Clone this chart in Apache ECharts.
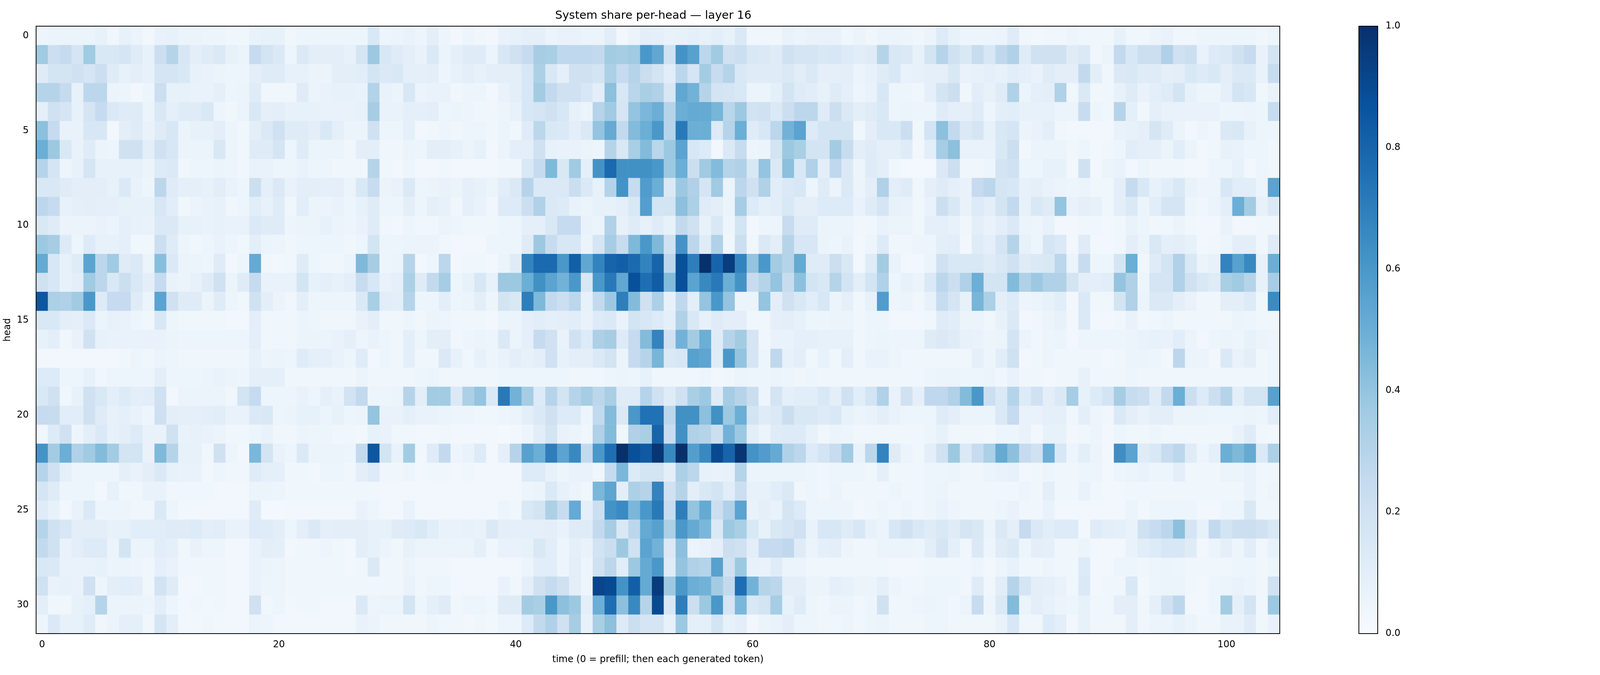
<!DOCTYPE html>
<html>
<head>
<meta charset="utf-8">
<title>System share per-head — layer 16</title>
<script src="https://cdn.jsdelivr.net/npm/echarts@6/dist/echarts.min.js"></script>
<style>
  html, body { margin: 0; padding: 0; background: #ffffff; overflow: hidden; }
  #chart-container { width: 100vw; height: 100vh; }
</style>
</head>
<body>
<div id="chart-container"></div>
<script>
// time steps (0 = prefill) and attention heads
var times = [];
for (var t = 0; t <= 104; t++) times.push(String(t));
var heads = [];
for (var h = 0; h <= 31; h++) heads.push(String(h));

var xTicks = [0, 20, 40, 60, 80, 100];
var yTicks = [0, 5, 10, 15, 20, 25, 30];
var colorbarTicks = [0, 0.2, 0.4, 0.6, 0.8, 1.0];

// system share, one row per head, one value per time step
var shareByHead = [
  [0.05,0.06,0.06,0.06,0.06,0.08,0.04,0.08,0.06,0.03,0.07,0.08,0.06,0.06,0.05,0.05,0.04,0.04,0.07,0.08,0.08,0.04,0.05,0.05,0.05,0.05,0.05, 0.05,0.15,0.05,0.06,0.07,0.05,0.1,0.05,0.03,0.05,0.04,0.03,0.07,0.08,0.09,0.09,0.06,0.07,0.07,0.06,0.06,0.11,0.03,0.06,0.1,0.09,0.07, 0.08,0.09,0.08,0.1,0.08,0.14,0.04,0.04,0.04,0.07,0.06,0.07,0.07,0.07,0.04,0.06,0.04,0.06,0.06,0.05,0.04,0.06,0.13,0.08,0.05,0.05,0.05, 0.06,0.12,0.04,0.03,0.04,0.04,0.05,0.04,0.04,0.04,0.08,0.04,0.04,0.06,0.07,0.04,0.04,0.05,0.05,0.05,0.05,0.05,0.04,0.05],
  [0.37,0.22,0.25,0.17,0.37,0.15,0.15,0.17,0.12,0.08,0.22,0.3,0.16,0.1,0.12,0.14,0.08,0.06,0.25,0.18,0.14,0.05,0.14,0.1,0.1,0.1,0.08, 0.17,0.38,0.16,0.12,0.1,0.07,0.14,0.06,0.09,0.12,0.12,0.06,0.16,0.2,0.25,0.35,0.34,0.27,0.27,0.27,0.26,0.36,0.35,0.37,0.6,0.53,0.2, 0.62,0.56,0.28,0.37,0.2,0.22,0.15,0.14,0.12,0.2,0.17,0.17,0.15,0.16,0.13,0.11,0.12,0.3,0.15,0.14,0.08,0.18,0.3,0.2,0.15,0.24,0.16, 0.27,0.32,0.12,0.2,0.2,0.2,0.12,0.14,0.04,0.06,0.26,0.16,0.22,0.22,0.32,0.2,0.22,0.07,0.13,0.14,0.2,0.25,0.07,0.18],
  [0.12,0.18,0.18,0.2,0.17,0.22,0.12,0.08,0.1,0.08,0.17,0.17,0.15,0.08,0.07,0.06,0.05,0.05,0.1,0.12,0.12,0.08,0.08,0.06,0.06,0.1,0.1, 0.11,0.18,0.14,0.15,0.09,0.09,0.1,0.05,0.08,0.1,0.08,0.1,0.1,0.1,0.16,0.33,0.15,0.09,0.2,0.2,0.18,0.33,0.25,0.3,0.23,0.18,0.11, 0.28,0.17,0.36,0.24,0.3,0.15,0.12,0.12,0.12,0.14,0.11,0.14,0.09,0.09,0.1,0.06,0.08,0.12,0.15,0.07,0.08,0.09,0.09,0.15,0.07,0.08,0.09, 0.08,0.11,0.09,0.07,0.12,0.1,0.1,0.26,0.1,0.04,0.14,0.15,0.12,0.12,0.09,0.1,0.15,0.13,0.15,0.1,0.14,0.14,0.07,0.24],
  [0.3,0.3,0.25,0.08,0.28,0.28,0.06,0.05,0.03,0.05,0.22,0.08,0.08,0.07,0.07,0.09,0.05,0.06,0.12,0.04,0.04,0.04,0.12,0.06,0.07,0.08,0.08, 0.07,0.31,0.07,0.06,0.16,0.06,0.07,0.07,0.04,0.05,0.05,0.03,0.07,0.1,0.16,0.36,0.26,0.2,0.2,0.16,0.1,0.42,0.16,0.29,0.34,0.32,0.16, 0.53,0.48,0.3,0.18,0.17,0.15,0.06,0.06,0.09,0.18,0.12,0.11,0.08,0.12,0.09,0.05,0.07,0.16,0.05,0.05,0.04,0.09,0.18,0.22,0.04,0.11,0.08, 0.12,0.32,0.06,0.09,0.1,0.32,0.04,0.14,0.04,0.04,0.08,0.12,0.07,0.1,0.12,0.18,0.08,0.05,0.05,0.09,0.18,0.16,0.04,0.07],
  [0.09,0.2,0.17,0.08,0.17,0.25,0.14,0.12,0.12,0.06,0.15,0.09,0.12,0.12,0.15,0.05,0.04,0.06,0.15,0.09,0.1,0.08,0.08,0.08,0.07,0.07,0.07, 0.08,0.35,0.07,0.07,0.09,0.09,0.1,0.05,0.06,0.05,0.04,0.04,0.05,0.08,0.16,0.17,0.2,0.16,0.08,0.06,0.3,0.37,0.17,0.4,0.46,0.5,0.3, 0.5,0.52,0.52,0.47,0.29,0.38,0.19,0.2,0.14,0.22,0.28,0.28,0.12,0.22,0.14,0.1,0.12,0.15,0.05,0.06,0.05,0.05,0.12,0.09,0.09,0.12,0.05, 0.1,0.11,0.08,0.08,0.08,0.06,0.06,0.24,0.05,0.04,0.3,0.09,0.04,0.09,0.07,0.07,0.07,0.07,0.07,0.05,0.05,0.06,0.05,0.24],
  [0.42,0.25,0.07,0.07,0.16,0.16,0.03,0.1,0.12,0.07,0.12,0.16,0.06,0.08,0.08,0.1,0.05,0.04,0.1,0.14,0.2,0.12,0.12,0.1,0.15,0.09,0.06, 0.06,0.2,0.05,0.05,0.09,0.03,0.04,0.05,0.04,0.05,0.05,0.04,0.06,0.04,0.12,0.28,0.15,0.14,0.1,0.14,0.4,0.52,0.26,0.44,0.5,0.6,0.3, 0.72,0.5,0.5,0.13,0.3,0.5,0.12,0.16,0.28,0.48,0.55,0.13,0.18,0.18,0.18,0.04,0.1,0.15,0.15,0.22,0.04,0.18,0.42,0.26,0.14,0.17,0.08, 0.15,0.17,0.06,0.07,0.1,0.04,0.03,0.03,0.03,0.03,0.07,0.08,0.09,0.17,0.12,0.06,0.03,0.05,0.04,0.14,0.15,0.08,0.05,0.05],
  [0.5,0.38,0.15,0.07,0.12,0.06,0.05,0.2,0.2,0.1,0.2,0.16,0.06,0.06,0.06,0.15,0.05,0.04,0.12,0.12,0.17,0.05,0.12,0.06,0.06,0.06,0.04, 0.1,0.1,0.04,0.04,0.06,0.05,0.1,0.1,0.08,0.06,0.08,0.03,0.06,0.1,0.1,0.2,0.08,0.07,0.07,0.06,0.05,0.3,0.15,0.34,0.44,0.29,0.38, 0.55,0.16,0.13,0.03,0.14,0.24,0.05,0.06,0.18,0.38,0.34,0.18,0.18,0.36,0.24,0.1,0.12,0.09,0.09,0.12,0.03,0.1,0.35,0.42,0.07,0.07,0.07, 0.15,0.22,0.03,0.06,0.06,0.06,0.04,0.05,0.03,0.04,0.05,0.11,0.09,0.09,0.06,0.11,0.06,0.03,0.04,0.08,0.07,0.05,0.05,0.04],
  [0.3,0.17,0.05,0.08,0.17,0.08,0.08,0.08,0.08,0.06,0.13,0.14,0.04,0.05,0.05,0.06,0.05,0.04,0.07,0.07,0.05,0.05,0.07,0.05,0.05,0.04,0.04, 0.04,0.3,0.04,0.03,0.05,0.03,0.03,0.04,0.03,0.03,0.03,0.03,0.04,0.04,0.15,0.25,0.45,0.15,0.37,0.09,0.62,0.78,0.63,0.63,0.63,0.6,0.38, 0.5,0.22,0.37,0.44,0.3,0.32,0.15,0.4,0.14,0.42,0.15,0.32,0.1,0.27,0.14,0.05,0.12,0.1,0.04,0.02,0.02,0.02,0.14,0.22,0.04,0.04,0.05, 0.18,0.2,0.05,0.05,0.08,0.08,0.03,0.2,0.03,0.06,0.07,0.03,0.05,0.04,0.04,0.04,0.03,0.03,0.05,0.05,0.08,0.03,0.05,0.04],
  [0.15,0.15,0.12,0.1,0.1,0.1,0.08,0.14,0.07,0.05,0.28,0.12,0.09,0.09,0.08,0.11,0.07,0.05,0.22,0.09,0.14,0.07,0.1,0.1,0.09,0.09,0.06, 0.15,0.24,0.06,0.07,0.14,0.05,0.06,0.07,0.06,0.09,0.08,0.06,0.11,0.14,0.3,0.14,0.14,0.14,0.23,0.14,0.08,0.31,0.62,0.24,0.58,0.5,0.14, 0.38,0.32,0.17,0.37,0.06,0.28,0.2,0.32,0.11,0.14,0.16,0.05,0.12,0.06,0.14,0.06,0.1,0.32,0.1,0.12,0.04,0.09,0.12,0.09,0.07,0.25,0.28, 0.17,0.16,0.08,0.09,0.07,0.06,0.05,0.06,0.04,0.04,0.1,0.25,0.15,0.08,0.11,0.15,0.07,0.05,0.05,0.16,0.11,0.11,0.06,0.55],
  [0.28,0.25,0.08,0.09,0.1,0.09,0.09,0.08,0.08,0.08,0.16,0.11,0.04,0.06,0.07,0.08,0.04,0.05,0.11,0.08,0.12,0.04,0.11,0.06,0.06,0.07,0.05, 0.08,0.12,0.05,0.05,0.1,0.05,0.09,0.08,0.04,0.09,0.07,0.04,0.13,0.13,0.22,0.32,0.14,0.13,0.07,0.06,0.08,0.08,0.09,0.15,0.57,0.18,0.18, 0.42,0.33,0.12,0.1,0.06,0.35,0.13,0.09,0.11,0.15,0.1,0.1,0.13,0.13,0.13,0.07,0.12,0.17,0.08,0.07,0.04,0.07,0.22,0.15,0.07,0.13,0.1, 0.18,0.26,0.08,0.15,0.12,0.4,0.07,0.09,0.08,0.04,0.1,0.14,0.06,0.11,0.17,0.17,0.05,0.04,0.06,0.1,0.5,0.36,0.08,0.14],
  [0.15,0.12,0.06,0.06,0.06,0.07,0.06,0.09,0.08,0.07,0.14,0.14,0.08,0.08,0.07,0.08,0.07,0.07,0.14,0.12,0.12,0.05,0.06,0.06,0.08,0.06,0.05, 0.07,0.12,0.04,0.03,0.05,0.04,0.04,0.06,0.05,0.04,0.04,0.04,0.05,0.05,0.09,0.09,0.15,0.25,0.25,0.07,0.06,0.32,0.08,0.12,0.08,0.12,0.08, 0.26,0.2,0.08,0.15,0.05,0.18,0.03,0.05,0.05,0.24,0.12,0.12,0.06,0.06,0.06,0.04,0.04,0.07,0.06,0.06,0.04,0.09,0.09,0.08,0.04,0.1,0.07, 0.1,0.14,0.06,0.05,0.08,0.03,0.03,0.04,0.04,0.03,0.04,0.07,0.05,0.04,0.04,0.06,0.04,0.03,0.03,0.07,0.03,0.03,0.04,0.04],
  [0.38,0.35,0.13,0.05,0.13,0.08,0.08,0.09,0.04,0.04,0.22,0.12,0.05,0.04,0.05,0.07,0.05,0.04,0.1,0.06,0.05,0.04,0.05,0.05,0.05,0.05,0.04, 0.05,0.18,0.05,0.05,0.06,0.06,0.06,0.04,0.03,0.03,0.03,0.05,0.05,0.05,0.12,0.38,0.24,0.16,0.16,0.06,0.17,0.35,0.24,0.45,0.6,0.45,0.2, 0.62,0.28,0.12,0.32,0.04,0.22,0.04,0.14,0.1,0.3,0.16,0.16,0.06,0.05,0.07,0.03,0.05,0.13,0.04,0.04,0.05,0.05,0.1,0.11,0.03,0.12,0.09, 0.17,0.3,0.08,0.05,0.17,0.14,0.03,0.12,0.03,0.03,0.04,0.1,0.06,0.15,0.09,0.1,0.08,0.03,0.04,0.05,0.1,0.1,0.04,0.12],
  [0.52,0.16,0.08,0.12,0.55,0.28,0.37,0.12,0.14,0.06,0.43,0.14,0.06,0.06,0.05,0.12,0.03,0.05,0.52,0.04,0.03,0.04,0.12,0.05,0.04,0.04,0.06, 0.45,0.35,0.05,0.06,0.3,0.03,0.05,0.28,0.03,0.04,0.04,0.03,0.06,0.12,0.68,0.78,0.78,0.6,0.82,0.53,0.68,0.8,0.82,0.78,0.68,0.8,0.28, 0.88,0.7,1.0,0.8,0.95,0.68,0.4,0.6,0.36,0.3,0.52,0.12,0.12,0.22,0.15,0.03,0.12,0.36,0.07,0.03,0.03,0.06,0.2,0.15,0.15,0.15,0.12, 0.15,0.2,0.12,0.14,0.15,0.28,0.06,0.24,0.05,0.05,0.17,0.5,0.04,0.12,0.18,0.32,0.15,0.06,0.08,0.68,0.56,0.66,0.08,0.5],
  [0.2,0.16,0.08,0.1,0.37,0.28,0.15,0.22,0.15,0.1,0.25,0.07,0.06,0.08,0.12,0.2,0.06,0.12,0.25,0.07,0.07,0.07,0.18,0.08,0.09,0.08,0.1, 0.24,0.16,0.07,0.09,0.33,0.12,0.26,0.35,0.05,0.08,0.16,0.08,0.38,0.38,0.5,0.63,0.55,0.48,0.6,0.16,0.6,0.72,0.53,0.88,0.76,0.83,0.44, 0.88,0.55,0.66,0.72,0.5,0.62,0.24,0.3,0.4,0.24,0.42,0.18,0.15,0.3,0.18,0.1,0.18,0.32,0.05,0.08,0.06,0.14,0.28,0.22,0.32,0.5,0.18, 0.18,0.44,0.32,0.38,0.32,0.32,0.18,0.1,0.1,0.11,0.4,0.32,0.05,0.17,0.17,0.32,0.2,0.15,0.12,0.34,0.37,0.3,0.08,0.35],
  [0.85,0.33,0.32,0.37,0.6,0.13,0.25,0.25,0.12,0.06,0.55,0.2,0.12,0.12,0.06,0.12,0.05,0.04,0.2,0.1,0.06,0.04,0.1,0.05,0.05,0.05,0.05, 0.14,0.34,0.11,0.1,0.3,0.05,0.05,0.1,0.05,0.06,0.1,0.05,0.18,0.15,0.7,0.45,0.26,0.22,0.28,0.08,0.26,0.38,0.7,0.44,0.2,0.33,0.08, 0.27,0.1,0.4,0.6,0.4,0.06,0.06,0.4,0.1,0.2,0.15,0.11,0.16,0.06,0.09,0.04,0.08,0.58,0.05,0.06,0.04,0.08,0.24,0.17,0.08,0.47,0.33, 0.1,0.13,0.05,0.06,0.08,0.11,0.03,0.14,0.04,0.04,0.18,0.32,0.06,0.14,0.14,0.1,0.07,0.04,0.04,0.1,0.1,0.13,0.04,0.65],
  [0.15,0.15,0.1,0.09,0.14,0.06,0.08,0.07,0.05,0.04,0.15,0.05,0.04,0.04,0.04,0.04,0.03,0.03,0.1,0.04,0.04,0.04,0.06,0.05,0.04,0.04,0.04, 0.07,0.1,0.04,0.04,0.05,0.04,0.06,0.05,0.04,0.04,0.04,0.03,0.06,0.06,0.09,0.11,0.09,0.1,0.11,0.07,0.13,0.14,0.07,0.18,0.16,0.13,0.09, 0.32,0.15,0.08,0.12,0.1,0.1,0.04,0.04,0.09,0.1,0.08,0.05,0.05,0.06,0.06,0.04,0.05,0.05,0.03,0.03,0.03,0.04,0.12,0.11,0.06,0.06,0.04, 0.08,0.14,0.03,0.04,0.06,0.08,0.03,0.14,0.03,0.03,0.04,0.07,0.03,0.04,0.05,0.04,0.04,0.04,0.04,0.04,0.06,0.05,0.04,0.04],
  [0.08,0.1,0.04,0.07,0.2,0.08,0.07,0.07,0.07,0.07,0.07,0.06,0.05,0.05,0.05,0.05,0.05,0.05,0.1,0.04,0.04,0.04,0.06,0.06,0.06,0.07,0.09, 0.05,0.07,0.05,0.04,0.1,0.05,0.1,0.1,0.04,0.05,0.06,0.05,0.14,0.06,0.09,0.25,0.2,0.07,0.2,0.13,0.33,0.35,0.13,0.25,0.44,0.68,0.2, 0.48,0.36,0.5,0.12,0.3,0.36,0.17,0.04,0.07,0.07,0.09,0.09,0.08,0.08,0.08,0.04,0.05,0.06,0.05,0.05,0.05,0.12,0.14,0.12,0.08,0.07,0.05, 0.06,0.18,0.06,0.04,0.05,0.06,0.03,0.05,0.05,0.05,0.05,0.06,0.07,0.08,0.07,0.11,0.06,0.03,0.05,0.06,0.05,0.08,0.06,0.05],
  [0.03,0.03,0.03,0.03,0.03,0.03,0.03,0.04,0.05,0.04,0.06,0.05,0.04,0.04,0.04,0.04,0.04,0.04,0.08,0.05,0.06,0.05,0.12,0.09,0.09,0.07,0.05, 0.12,0.03,0.05,0.04,0.1,0.04,0.04,0.14,0.08,0.04,0.08,0.05,0.07,0.1,0.08,0.1,0.2,0.08,0.1,0.1,0.14,0.18,0.06,0.25,0.3,0.47,0.14, 0.16,0.56,0.54,0.12,0.6,0.4,0.17,0.05,0.27,0.08,0.1,0.04,0.08,0.04,0.1,0.04,0.07,0.07,0.05,0.04,0.04,0.04,0.04,0.04,0.04,0.09,0.05, 0.11,0.2,0.03,0.04,0.05,0.04,0.04,0.04,0.04,0.03,0.04,0.06,0.06,0.05,0.03,0.28,0.06,0.06,0.03,0.14,0.07,0.1,0.04,0.05],
  [0.13,0.13,0.05,0.05,0.08,0.04,0.05,0.05,0.05,0.05,0.1,0.05,0.05,0.05,0.06,0.07,0.06,0.05,0.09,0.09,0.09,0.04,0.04,0.04,0.04,0.04,0.04, 0.06,0.04,0.04,0.04,0.04,0.05,0.06,0.04,0.04,0.04,0.04,0.04,0.05,0.05,0.05,0.05,0.05,0.05,0.04,0.04,0.04,0.05,0.06,0.05,0.08,0.04,0.04, 0.04,0.04,0.05,0.03,0.04,0.06,0.05,0.05,0.06,0.05,0.04,0.05,0.04,0.04,0.04,0.04,0.04,0.04,0.04,0.04,0.04,0.05,0.06,0.06,0.05,0.05,0.06, 0.04,0.07,0.04,0.04,0.03,0.04,0.04,0.08,0.04,0.04,0.04,0.05,0.04,0.04,0.04,0.04,0.04,0.04,0.04,0.04,0.04,0.04,0.04,0.05],
  [0.15,0.2,0.04,0.08,0.2,0.15,0.1,0.13,0.1,0.11,0.2,0.03,0.06,0.06,0.06,0.06,0.04,0.18,0.25,0.05,0.05,0.05,0.07,0.05,0.09,0.07,0.19, 0.26,0.05,0.05,0.06,0.3,0.1,0.36,0.36,0.14,0.33,0.4,0.14,0.72,0.48,0.35,0.13,0.3,0.18,0.3,0.35,0.28,0.34,0.12,0.12,0.3,0.2,0.12, 0.2,0.34,0.38,0.12,0.35,0.3,0.23,0.05,0.18,0.09,0.11,0.11,0.15,0.1,0.2,0.11,0.18,0.32,0.07,0.2,0.09,0.27,0.27,0.32,0.44,0.6,0.22, 0.14,0.3,0.13,0.2,0.1,0.14,0.35,0.08,0.13,0.18,0.35,0.24,0.22,0.12,0.26,0.5,0.22,0.13,0.22,0.3,0.1,0.18,0.18,0.56],
  [0.25,0.24,0.11,0.11,0.2,0.12,0.08,0.09,0.07,0.05,0.21,0.1,0.09,0.09,0.1,0.11,0.07,0.07,0.14,0.15,0.05,0.06,0.08,0.08,0.06,0.08,0.05, 0.06,0.4,0.07,0.07,0.09,0.07,0.07,0.06,0.05,0.05,0.04,0.04,0.05,0.06,0.1,0.14,0.2,0.13,0.13,0.05,0.26,0.44,0.14,0.6,0.75,0.75,0.28, 0.63,0.63,0.42,0.63,0.38,0.5,0.18,0.12,0.14,0.23,0.15,0.15,0.13,0.15,0.08,0.06,0.07,0.1,0.07,0.05,0.05,0.05,0.12,0.1,0.06,0.06,0.06, 0.14,0.25,0.07,0.07,0.09,0.09,0.04,0.1,0.05,0.04,0.14,0.1,0.07,0.1,0.1,0.06,0.06,0.06,0.05,0.05,0.05,0.06,0.05,0.11],
  [0.04,0.13,0.2,0.05,0.1,0.14,0.08,0.1,0.13,0.07,0.07,0.2,0.07,0.08,0.07,0.06,0.04,0.04,0.05,0.07,0.04,0.04,0.06,0.05,0.05,0.04,0.04, 0.03,0.08,0.07,0.04,0.04,0.03,0.03,0.04,0.03,0.03,0.03,0.03,0.02,0.03,0.05,0.11,0.18,0.07,0.06,0.04,0.32,0.44,0.04,0.32,0.34,0.8,0.24, 0.63,0.32,0.3,0.22,0.48,0.38,0.1,0.06,0.12,0.13,0.13,0.08,0.04,0.06,0.05,0.04,0.04,0.04,0.04,0.04,0.04,0.05,0.08,0.04,0.04,0.04,0.03, 0.05,0.05,0.07,0.03,0.08,0.08,0.03,0.04,0.05,0.03,0.05,0.04,0.04,0.05,0.04,0.04,0.04,0.04,0.04,0.04,0.07,0.12,0.04,0.03],
  [0.62,0.36,0.5,0.32,0.37,0.44,0.36,0.18,0.18,0.07,0.45,0.3,0.08,0.08,0.04,0.2,0.05,0.03,0.46,0.18,0.07,0.05,0.14,0.06,0.06,0.06,0.05, 0.26,0.85,0.18,0.07,0.36,0.04,0.12,0.26,0.05,0.07,0.13,0.03,0.09,0.3,0.56,0.5,0.7,0.55,0.66,0.26,0.6,0.76,1.0,0.88,0.84,0.98,0.66, 1.0,0.57,0.66,0.9,0.8,0.98,0.62,0.58,0.52,0.32,0.28,0.13,0.18,0.24,0.37,0.07,0.28,0.68,0.12,0.06,0.04,0.1,0.2,0.38,0.14,0.24,0.33, 0.52,0.42,0.25,0.2,0.5,0.16,0.05,0.1,0.06,0.03,0.64,0.55,0.12,0.15,0.24,0.28,0.12,0.05,0.09,0.5,0.45,0.52,0.14,0.33],
  [0.3,0.2,0.09,0.05,0.05,0.05,0.05,0.09,0.07,0.1,0.14,0.08,0.07,0.07,0.03,0.05,0.04,0.04,0.12,0.09,0.09,0.04,0.04,0.03,0.05,0.05,0.04, 0.1,0.13,0.04,0.04,0.05,0.03,0.04,0.04,0.03,0.04,0.03,0.03,0.03,0.03,0.13,0.13,0.08,0.05,0.07,0.07,0.04,0.25,0.46,0.13,0.18,0.18,0.1, 0.33,0.28,0.08,0.07,0.08,0.3,0.06,0.06,0.06,0.06,0.06,0.05,0.04,0.05,0.05,0.05,0.04,0.09,0.04,0.04,0.04,0.05,0.05,0.06,0.04,0.04,0.06, 0.07,0.08,0.03,0.04,0.05,0.04,0.04,0.05,0.05,0.03,0.05,0.06,0.07,0.05,0.05,0.1,0.04,0.04,0.04,0.06,0.06,0.07,0.04,0.04],
  [0.17,0.12,0.05,0.05,0.05,0.03,0.08,0.04,0.04,0.07,0.07,0.04,0.04,0.04,0.04,0.03,0.03,0.03,0.06,0.06,0.05,0.04,0.04,0.04,0.04,0.04,0.04, 0.04,0.04,0.03,0.03,0.03,0.03,0.03,0.03,0.03,0.03,0.03,0.03,0.03,0.03,0.05,0.06,0.14,0.08,0.06,0.04,0.46,0.54,0.1,0.33,0.3,0.68,0.2, 0.3,0.1,0.15,0.18,0.11,0.22,0.08,0.08,0.11,0.14,0.04,0.05,0.04,0.06,0.04,0.04,0.04,0.04,0.05,0.04,0.04,0.05,0.06,0.04,0.04,0.04,0.04, 0.04,0.04,0.05,0.04,0.1,0.04,0.04,0.07,0.04,0.03,0.03,0.04,0.04,0.04,0.04,0.04,0.04,0.04,0.04,0.04,0.04,0.07,0.04,0.05],
  [0.12,0.08,0.03,0.07,0.14,0.05,0.05,0.05,0.04,0.04,0.14,0.05,0.03,0.03,0.03,0.03,0.03,0.03,0.12,0.02,0.02,0.03,0.03,0.03,0.03,0.03,0.03, 0.07,0.05,0.03,0.03,0.07,0.03,0.03,0.03,0.03,0.03,0.03,0.03,0.05,0.04,0.15,0.18,0.33,0.24,0.52,0.09,0.22,0.62,0.65,0.46,0.6,0.72,0.24, 0.7,0.4,0.52,0.22,0.32,0.55,0.07,0.09,0.07,0.17,0.13,0.05,0.05,0.05,0.05,0.03,0.04,0.05,0.04,0.05,0.04,0.05,0.07,0.05,0.04,0.04,0.04, 0.05,0.07,0.04,0.04,0.07,0.03,0.03,0.03,0.03,0.03,0.03,0.06,0.03,0.05,0.05,0.05,0.05,0.03,0.03,0.05,0.05,0.15,0.04,0.04],
  [0.3,0.2,0.16,0.1,0.1,0.1,0.08,0.08,0.11,0.11,0.11,0.12,0.12,0.13,0.1,0.11,0.07,0.07,0.13,0.12,0.1,0.05,0.1,0.14,0.09,0.1,0.1, 0.1,0.08,0.08,0.12,0.13,0.15,0.11,0.07,0.07,0.08,0.07,0.14,0.1,0.09,0.09,0.09,0.1,0.07,0.12,0.12,0.26,0.35,0.15,0.28,0.52,0.56,0.33, 0.6,0.52,0.46,0.14,0.38,0.34,0.15,0.08,0.15,0.17,0.2,0.07,0.16,0.16,0.12,0.16,0.08,0.06,0.16,0.2,0.15,0.12,0.15,0.12,0.17,0.15,0.06, 0.14,0.09,0.25,0.14,0.11,0.13,0.13,0.03,0.12,0.1,0.09,0.07,0.2,0.24,0.28,0.42,0.17,0.08,0.26,0.18,0.22,0.22,0.2,0.15],
  [0.26,0.2,0.07,0.1,0.13,0.13,0.06,0.18,0.06,0.06,0.11,0.09,0.04,0.07,0.05,0.05,0.03,0.03,0.07,0.1,0.09,0.03,0.04,0.04,0.05,0.04,0.03, 0.1,0.08,0.06,0.04,0.08,0.06,0.06,0.06,0.06,0.06,0.09,0.04,0.07,0.07,0.08,0.15,0.11,0.05,0.09,0.07,0.19,0.23,0.38,0.2,0.55,0.48,0.14, 0.42,0.06,0.07,0.09,0.22,0.2,0.1,0.25,0.25,0.27,0.12,0.06,0.09,0.1,0.05,0.04,0.04,0.06,0.06,0.06,0.05,0.1,0.17,0.09,0.04,0.14,0.05, 0.12,0.14,0.05,0.1,0.09,0.04,0.04,0.06,0.03,0.03,0.03,0.07,0.11,0.13,0.16,0.16,0.12,0.03,0.06,0.09,0.05,0.11,0.04,0.08],
  [0.15,0.14,0.07,0.07,0.07,0.08,0.06,0.06,0.05,0.04,0.09,0.07,0.04,0.04,0.04,0.04,0.03,0.03,0.07,0.06,0.05,0.04,0.04,0.04,0.04,0.04,0.03, 0.04,0.14,0.04,0.04,0.06,0.04,0.04,0.04,0.03,0.03,0.03,0.03,0.03,0.03,0.06,0.11,0.11,0.05,0.1,0.05,0.2,0.28,0.11,0.38,0.52,0.6,0.12, 0.4,0.32,0.3,0.56,0.2,0.38,0.08,0.07,0.12,0.06,0.06,0.04,0.04,0.04,0.04,0.04,0.04,0.04,0.03,0.03,0.03,0.04,0.04,0.04,0.04,0.05,0.03, 0.05,0.08,0.04,0.04,0.05,0.04,0.04,0.13,0.03,0.03,0.05,0.05,0.04,0.05,0.06,0.05,0.04,0.04,0.04,0.04,0.05,0.05,0.04,0.05],
  [0.2,0.07,0.08,0.07,0.2,0.05,0.1,0.11,0.1,0.04,0.19,0.12,0.03,0.03,0.04,0.04,0.03,0.03,0.07,0.05,0.05,0.04,0.04,0.04,0.04,0.04,0.04, 0.04,0.04,0.04,0.04,0.07,0.04,0.05,0.05,0.03,0.03,0.03,0.03,0.07,0.04,0.1,0.2,0.25,0.2,0.1,0.05,0.92,0.9,0.62,0.82,0.52,0.96,0.38, 0.6,0.5,0.48,0.36,0.26,0.76,0.48,0.3,0.28,0.1,0.1,0.06,0.06,0.09,0.08,0.06,0.06,0.09,0.05,0.04,0.04,0.05,0.05,0.05,0.04,0.12,0.04, 0.11,0.3,0.17,0.1,0.09,0.07,0.04,0.14,0.03,0.04,0.04,0.15,0.03,0.05,0.06,0.06,0.04,0.03,0.05,0.06,0.07,0.06,0.04,0.2],
  [0.1,0.04,0.04,0.08,0.09,0.3,0.06,0.06,0.06,0.05,0.1,0.05,0.03,0.04,0.03,0.04,0.03,0.03,0.2,0.04,0.05,0.03,0.04,0.04,0.03,0.03,0.03, 0.14,0.05,0.06,0.06,0.18,0.05,0.09,0.12,0.04,0.05,0.05,0.04,0.12,0.12,0.36,0.34,0.6,0.42,0.38,0.1,0.5,0.76,0.42,0.66,0.3,0.9,0.16, 0.7,0.22,0.38,0.6,0.17,0.46,0.15,0.18,0.35,0.08,0.12,0.05,0.04,0.06,0.06,0.04,0.05,0.2,0.04,0.04,0.05,0.06,0.05,0.04,0.06,0.24,0.05, 0.14,0.44,0.06,0.1,0.08,0.06,0.05,0.08,0.04,0.04,0.1,0.1,0.04,0.09,0.2,0.28,0.03,0.03,0.05,0.36,0.09,0.18,0.04,0.38],
  [0.05,0.14,0.08,0.08,0.12,0.04,0.06,0.09,0.09,0.04,0.17,0.1,0.03,0.03,0.04,0.03,0.03,0.03,0.06,0.05,0.03,0.03,0.03,0.03,0.03,0.03,0.03, 0.07,0.06,0.04,0.04,0.04,0.04,0.05,0.04,0.04,0.03,0.04,0.03,0.05,0.05,0.13,0.26,0.32,0.2,0.35,0.08,0.34,0.42,0.13,0.22,0.17,0.17,0.08, 0.38,0.09,0.09,0.18,0.08,0.1,0.03,0.06,0.07,0.1,0.05,0.05,0.04,0.04,0.05,0.04,0.05,0.06,0.04,0.04,0.04,0.05,0.05,0.04,0.04,0.04,0.04, 0.07,0.16,0.04,0.04,0.13,0.1,0.03,0.08,0.04,0.04,0.04,0.1,0.04,0.06,0.06,0.08,0.06,0.04,0.04,0.07,0.07,0.12,0.04,0.07]
];

// matplotlib "Blues"
var blues = ["#f7fbff", "#deebf7", "#c6dbef", "#9ecae1", "#6baed6", "#4292c6", "#2171b5", "#08519c", "#08306b"];

var heatData = [];
shareByHead.forEach(function (row, hi) {
  row.forEach(function (v, ti) {
    heatData.push([ti, hi, v]);
  });
});

var font = "DejaVu Sans";

var dom = document.getElementById("chart-container");
var myChart = echarts.init(dom, null, { renderer: "canvas" });

// layout was measured on a 6615 x 1728 figure; scale to whatever we get
function buildOption() {
  var W = dom.clientWidth || 6615;
  var H = dom.clientHeight || 1728;
  var sx = function (v) { return v * W / 6615; };
  var sy = function (v) { return v * H / 1728; };

  return {
    backgroundColor: "#ffffff",
    animation: false,
    title: {
      text: "System share per-head \u2014 layer 16",
      left: sx(2701),
      top: sy(26),
      textAlign: "center",
      padding: 0,
      textStyle: { fontFamily: font, fontSize: 29, fontWeight: "normal", color: "#000" },
    },
    grid: [
      {
        // heatmap
        left: sx(112), top: sy(67), width: sx(5179), height: sy(1555),
        show: true, borderColor: "#000", borderWidth: 2,
        backgroundColor: "transparent", z: 5,
      },
      {
        // colorbar frame
        left: sx(5618), top: sy(67), width: sx(78), height: sy(1555),
        show: true, borderColor: "#000", borderWidth: 2,
        backgroundColor: "transparent", z: 10,
      },
    ],
    xAxis: [
      {
        type: "category",
        gridIndex: 0,
        data: times,
        axisLine: { show: false },
        axisTick: {
          alignWithLabel: true,
          length: 9,
          interval: function (i) { return xTicks.indexOf(i) >= 0; },
          lineStyle: { color: "#000", width: 2 },
        },
        axisLabel: {
          interval: function (i) { return xTicks.indexOf(i) >= 0; },
          margin: 17,
          fontFamily: font, fontSize: 24, color: "#000",
        },
        splitLine: { show: false },
        name: "time (0 = prefill; then each generated token)",
        nameLocation: "middle",
        nameGap: 55,
        nameTextStyle: { fontFamily: font, fontSize: 24, color: "#000" },
      },
      { type: "value", gridIndex: 1, show: false, min: 0, max: 1 },
    ],
    yAxis: [
      {
        type: "category",
        gridIndex: 0,
        data: heads,
        inverse: true,
        axisLine: { show: false },
        axisTick: {
          alignWithLabel: true,
          length: 9,
          interval: function (i) { return yTicks.indexOf(i) >= 0; },
          lineStyle: { color: "#000", width: 2 },
        },
        axisLabel: {
          interval: function (i) { return yTicks.indexOf(i) >= 0; },
          margin: 19,
          fontFamily: font, fontSize: 24, color: "#000",
        },
        splitLine: { show: false },
        name: "head",
        nameLocation: "middle",
        nameGap: sx(62),
        nameTextStyle: { fontFamily: font, fontSize: 24, color: "#000" },
      },
      {
        type: "value",
        gridIndex: 1,
        position: "right",
        min: colorbarTicks[0],
        max: colorbarTicks[colorbarTicks.length - 1],
        interval: 0.2,
        axisLine: { show: false },
        axisTick: { show: true, length: 9, lineStyle: { color: "#000", width: 2 } },
        axisLabel: {
          margin: 20,
          fontFamily: font, fontSize: 24, color: "#000",
          formatter: function (v) { return v.toFixed(1); },
        },
        splitLine: { show: false },
      },
    ],
    visualMap: {
      type: "continuous",
      seriesIndex: 0,
      min: 0,
      max: 1,
      calculable: false,
      orient: "vertical",
      left: sx(5618),
      top: sy(67),
      itemWidth: sx(78),
      itemHeight: sy(1555),
      padding: 0,
      inRange: { color: blues },
    },
    series: [
      {
        type: "heatmap",
        xAxisIndex: 0,
        yAxisIndex: 0,
        data: heatData,
        progressive: 0,
        emphasis: { disabled: true },
      },
    ],
  };
}

var option = buildOption();
if (option && typeof option === "object") {
  myChart.setOption(option);
}

window.addEventListener("resize", function () {
  myChart.resize();
  myChart.setOption(buildOption());
});
</script>
</body>
</html>
